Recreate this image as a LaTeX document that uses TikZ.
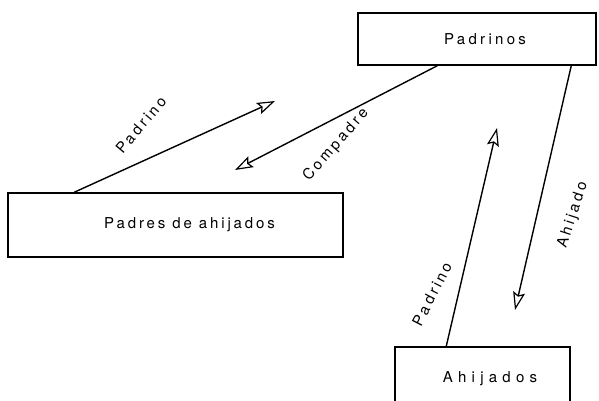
\documentclass[tikz,border=0pt]{standalone}
\usepackage{fontspec}
\setmainfont{TeX Gyre Heros}
\usepackage{tikz}
\usetikzlibrary{arrows.meta,shapes}
\tikzstyle{basicbox} = [draw, line width=1.5pt, inner sep=0pt]
\tikzstyle{rellabel} = [inner sep=1pt]
\tikzstyle{rel} = [line width=1.4pt, -{Stealth[open,length=18pt,width=12pt,inset=3pt,line width=1.2pt]}]
\newcommand{\boxtext}[2][22]{{\fontsize{15}{17}\selectfont\addfontfeature{LetterSpace=#1}#2}}
\newcommand{\reltext}[1]{{\fontsize{15}{17}\selectfont\addfontfeature{LetterSpace=20}#1}}

\begin{document}
\begin{tikzpicture}[x=1pt, y=-1pt]
        \useasboundingbox (0,0) rectangle (599,400);
        \path[] node[basicbox, minimum width=238pt, minimum height=52pt] (padrinos) at (477,39) {\hspace*{16pt}\boxtext[22]{Padrinos}};
        \path[] node[basicbox, minimum width=335pt, minimum height=64pt] (padres) at (175.5,225) {\hspace*{28pt}\boxtext[19]{Padres de ahijados}};
        \path[] node[basicbox, minimum width=175pt, minimum height=64pt] (ahijados) at (482.5,379) {\hspace*{15pt}\boxtext[35]{Ahijados}};
        % free ends of the arrows
        \coordinate (tipA) at (275,101);
        \coordinate (tipB) at (235,170);
        \coordinate (tipC) at (515,310);
        \coordinate (tipD) at (497,128);
        \draw[rel] ([xshift=67pt]padres.north west) -- (tipA);
        \draw[rel] ([xshift=80pt]padrinos.south west) -- (tipB);
        \draw[rel] ([xshift=214pt]padrinos.south west) -- (tipC);
        \draw[rel] ([xshift=52pt]ahijados.north west) -- (tipD);
        % labels of the arrows
        \path[] node[rellabel, rotate=50] (padrinoA) at (141,125) {\reltext{Padrino}};
        \path[] node[rellabel, rotate=49] (compadre) at (336,145) {\reltext{Compadre}};
        \path[] node[rellabel, rotate=72] (ahijado) at (573,215) {\reltext{Ahijado}};
        \path[] node[rellabel, rotate=63] (padrinoB) at (432,294) {\reltext{Padrino}};
\end{tikzpicture}
\end{document}
